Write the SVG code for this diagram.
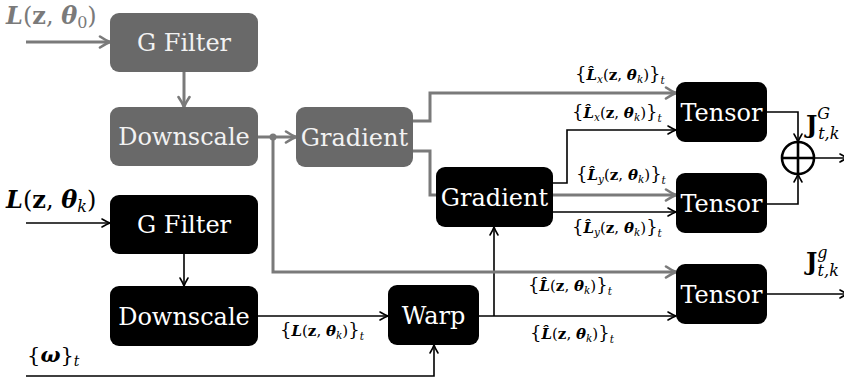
<svg xmlns="http://www.w3.org/2000/svg" width="844" height="383" viewBox="0 0 844 383">
  <style>
    .ng rect { fill: #696969; }
    .nb rect { fill: #000; }
    .ng text { fill: #f2f2f2; }
    .nb text { fill: #fff; }
    .node text { font-family: 'DejaVu Serif', serif; font-size: 24px; text-anchor: middle; }
    .cg { fill: none; stroke: #7a7a7a; stroke-width: 3; marker-end: url(#ag); }
    .cb { fill: none; stroke: #000; stroke-width: 1.6; marker-end: url(#ab); }
    .m { font-family: 'DejaVu Serif', serif; font-size: 15px; fill: #000; }
    .big { font-size: 24px; }
    .bi { font-weight: bold; font-style: italic; }
    .b { font-weight: bold; }
    .it { font-style: italic; }
    .s { font-size: 10.5px; }
    .br { font-size: 18px; }
  </style>
  <defs>
    <marker id="ag" markerUnits="userSpaceOnUse" markerWidth="16" markerHeight="16" refX="13" refY="8" orient="auto">
      <path d="M3,2.5 Q9,6.5 13,8 Q9,9.5 3,13.5" fill="none" stroke="#7a7a7a" stroke-width="2.6" stroke-linecap="round"/>
    </marker>
    <marker id="ab" markerUnits="userSpaceOnUse" markerWidth="14" markerHeight="14" refX="11" refY="7" orient="auto">
      <path d="M3,3 Q8,6 11,7 Q8,8 3,11" fill="none" stroke="#000" stroke-width="1.6" stroke-linecap="round"/>
    </marker>
  </defs>

  <!-- connectors -->
  <g id="connectors">
    <path class="cg" d="M26,42 H110"/>
    <path class="cg" d="M184,72 V107"/>
    <path class="cg" d="M258,137 H296"/>
    <path class="cb" d="M494,316 V227"/>
    <path class="cg" d="M273,137 V272 H676"/>
    <path class="cg" d="M413,121 H430 V93 H676"/>
    <path class="cg" d="M413,151 H430 V195 H676"/>
    <circle cx="273" cy="137" r="3.5" fill="#7a7a7a"/>

    <path class="cb" d="M26,223 H110"/>
    <path class="cb" d="M184,254 V286"/>
    <path class="cb" d="M258,316 H388"/>
    <path class="cb" d="M26,376 H434 V345"/>
    <path class="cb" d="M479,316 H676"/>
    <path class="cb" d="M553,183 H567 V130 H676"/>
    <path class="cb" d="M553,212 H676"/>
    <path class="cb" d="M767,112 H798 V142"/>
    <path class="cb" d="M767,204 H798 V174"/>
    <path class="cb" d="M814,158 H848"/>
    <path class="cb" d="M767,294 H848"/>
  </g>

  <!-- gray branch -->
  <g id="gfilter0" class="node ng"><rect x="110" y="13" width="148" height="59" rx="9"/><text x="184" y="51">G Filter</text></g>
  <g id="downscale0" class="node ng"><rect x="110" y="107" width="148" height="59" rx="9"/><text x="184" y="145">Downscale</text></g>
  <g id="gradient0" class="node ng"><rect x="296" y="107" width="117" height="60" rx="9"/><text x="354.5" y="146">Gradient</text></g>

  <!-- black branch -->
  <g id="gfilterk" class="node nb"><rect x="110" y="195" width="148" height="59" rx="9"/><text x="184" y="233">G Filter</text></g>
  <g id="downscalek" class="node nb"><rect x="110" y="286" width="148" height="60" rx="9"/><text x="184" y="325">Downscale</text></g>
  <g id="warp" class="node nb"><rect x="388" y="285" width="91" height="60" rx="9"/><text x="433.5" y="324">Warp</text></g>
  <g id="gradientk" class="node nb"><rect x="436" y="167" width="117" height="60" rx="9"/><text x="494.5" y="206">Gradient</text></g>
  <g id="tensor1" class="node nb"><rect x="676" y="82" width="91" height="60" rx="9"/><text x="721.5" y="121">Tensor</text></g>
  <g id="tensor2" class="node nb"><rect x="676" y="173" width="91" height="60" rx="9"/><text x="721.5" y="212">Tensor</text></g>
  <g id="tensor3" class="node nb"><rect x="676" y="264" width="91" height="60" rx="9"/><text x="721.5" y="303">Tensor</text></g>

  <g id="sum">
    <circle cx="798" cy="158" r="16" fill="#fff" stroke="#000" stroke-width="2.6"/>
    <path d="M782,158 H814 M798,142 V174" stroke="#000" stroke-width="2.6"/>
  </g>

  <!-- inputs -->
  <text class="m big" x="6" y="24" style="fill:#7a7a7a"><tspan class="bi">L</tspan>(<tspan class="b">z</tspan>, <tspan class="bi">θ</tspan><tspan style="font-size:16px" dy="4">0</tspan><tspan dy="-4">)</tspan></text>
  <text class="m big" x="6" y="208"><tspan class="bi">L</tspan>(<tspan class="b">z</tspan>, <tspan class="bi">θ</tspan><tspan class="it" style="font-size:16px" dy="4">k</tspan><tspan dy="-4">)</tspan></text>
  <text class="m" x="27" y="362" style="font-size:21px">{<tspan class="bi">ω</tspan>}<tspan class="it" style="font-size:14px" dy="4">t</tspan></text>

  <!-- edge labels -->
  <text class="m" x="575" y="80"><tspan class="br">{</tspan><tspan class="bi">L̂</tspan><tspan class="it s" dy="3">x</tspan><tspan dy="-3">(</tspan><tspan class="b">z</tspan>, <tspan class="bi">θ</tspan><tspan class="it s" dy="3">k</tspan><tspan dy="-3">)</tspan><tspan class="br">}</tspan><tspan class="it s" dy="4">t</tspan></text>
  <text class="m" x="572" y="118"><tspan class="br">{</tspan><tspan class="bi">L̂</tspan><tspan class="it s" dy="3">x</tspan><tspan dy="-3">(</tspan><tspan class="b">z</tspan>, <tspan class="bi">θ</tspan><tspan class="it s" dy="3">k</tspan><tspan dy="-3">)</tspan><tspan class="br">}</tspan><tspan class="it s" dy="4">t</tspan></text>
  <text class="m" x="576" y="180"><tspan class="br">{</tspan><tspan class="bi">L̂</tspan><tspan class="it s" dy="3">y</tspan><tspan dy="-3">(</tspan><tspan class="b">z</tspan>, <tspan class="bi">θ</tspan><tspan class="it s" dy="3">k</tspan><tspan dy="-3">)</tspan><tspan class="br">}</tspan><tspan class="it s" dy="4">t</tspan></text>
  <text class="m" x="572" y="233"><tspan class="br">{</tspan><tspan class="bi">L̂</tspan><tspan class="it s" dy="3">y</tspan><tspan dy="-3">(</tspan><tspan class="b">z</tspan>, <tspan class="bi">θ</tspan><tspan class="it s" dy="3">k</tspan><tspan dy="-3">)</tspan><tspan class="br">}</tspan><tspan class="it s" dy="4">t</tspan></text>
  <text class="m" x="528" y="291"><tspan class="br">{</tspan><tspan class="bi">L̂</tspan>(<tspan class="b">z</tspan>, <tspan class="bi">θ</tspan><tspan class="it s" dy="3">k</tspan><tspan dy="-3">)</tspan><tspan class="br">}</tspan><tspan class="it s" dy="4">t</tspan></text>
  <text class="m" x="530" y="339"><tspan class="br">{</tspan><tspan class="bi">L̂</tspan>(<tspan class="b">z</tspan>, <tspan class="bi">θ</tspan><tspan class="it s" dy="3">k</tspan><tspan dy="-3">)</tspan><tspan class="br">}</tspan><tspan class="it s" dy="4">t</tspan></text>
  <text class="m" x="280" y="336"><tspan class="br">{</tspan><tspan class="bi">L</tspan>(<tspan class="b">z</tspan>, <tspan class="bi">θ</tspan><tspan class="it s" dy="3">k</tspan><tspan dy="-3">)</tspan><tspan class="br">}</tspan><tspan class="it s" dy="4">t</tspan></text>

  <!-- outputs -->
  <text class="m" x="806" y="133" style="font-size:24px"><tspan class="b">J</tspan><tspan class="it" style="font-size:16px" dy="-14">G</tspan><tspan class="it" style="font-size:16px" dx="-12" dy="20">t,k</tspan></text>
  <text class="m" x="806" y="270" style="font-size:24px"><tspan class="b">J</tspan><tspan class="it" style="font-size:16px" dy="-12">g</tspan><tspan class="it" style="font-size:16px" dx="-10" dy="18">t,k</tspan></text>
</svg>
